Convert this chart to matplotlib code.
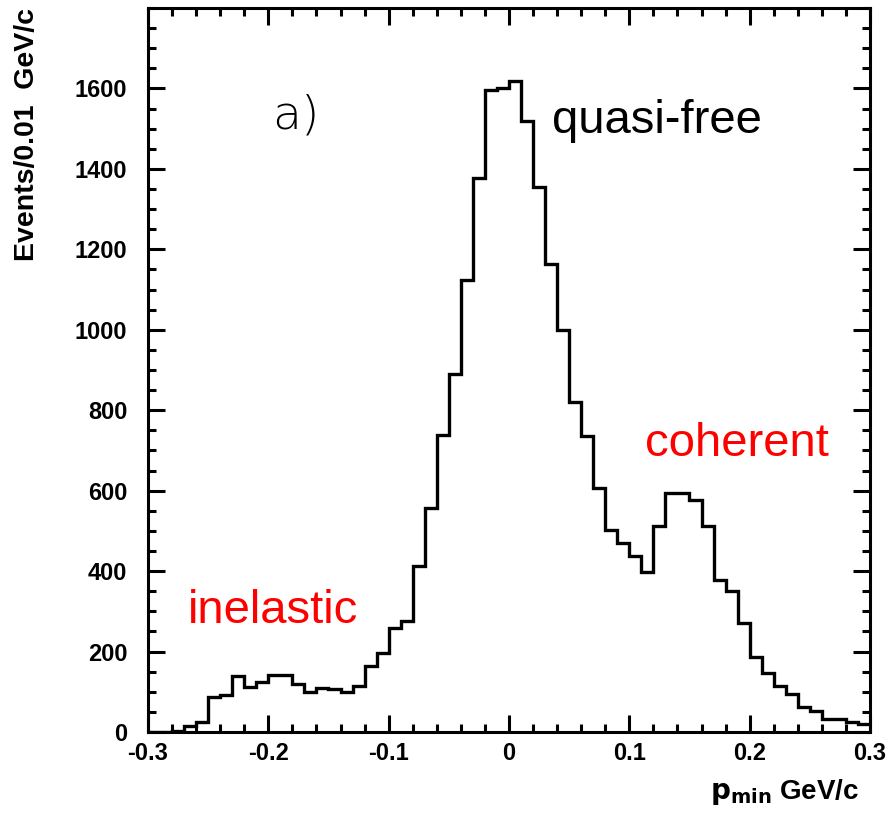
import numpy as np
import matplotlib
matplotlib.use("Agg")
from matplotlib import pyplot as plt
from matplotlib.ticker import MultipleLocator

# p_min distribution, 0.01 GeV/c bins from -0.3 to 0.3
edges = np.round(np.arange(-0.30, 0.3001, 0.01), 2)
counts = [0, 0, 2, 14, 26, 88, 92, 140, 113, 125,
          142, 142, 119, 100, 110, 106, 100, 115, 164, 197,
          258, 276, 413, 556, 738, 889, 1123, 1378, 1597, 1600,
          1618, 1518, 1355, 1163, 1000, 820, 735, 607, 502, 469,
          437, 398, 512, 595, 595, 576, 512, 378, 351, 270,
          187, 147, 115, 94, 61, 53, 32, 32, 26, 20]

xticks = [-0.3, -0.2, -0.1, 0, 0.1, 0.2, 0.3]
xticklabels = ["-0.3", "-0.2", "-0.1", "0", "0.1", "0.2", "0.3"]
yticks = [0, 200, 400, 600, 800, 1000, 1200, 1400, 1600]

plt.rcParams['font.family'] = ['Liberation Sans', 'DejaVu Sans']

fig = plt.figure(figsize=(8.9, 8.14), dpi=100)
ax = fig.add_axes([0.1663, 0.1007, 0.9775 - 0.1663, 0.9902 - 0.1007])

ax.stairs(counts, edges, color="black", linewidth=2.4, baseline=None)

ax.set_xlim(-0.3, 0.3)
ax.set_ylim(0, 1800)

ax.set_xticks(xticks)
ax.set_xticklabels(xticklabels, fontsize=17, fontweight="bold")
ax.set_yticks(yticks)
ax.set_yticklabels([str(v) for v in yticks], fontsize=17, fontweight="bold")
ax.xaxis.set_minor_locator(MultipleLocator(0.02))
ax.yaxis.set_minor_locator(MultipleLocator(50))

ax.tick_params(which="both", direction="in", top=True, right=True, width=2.2)
ax.tick_params(which="major", length=12)
ax.tick_params(which="minor", length=6)
ax.tick_params(axis="y", which="major", pad=15)
ax.tick_params(axis="x", which="major", pad=7)
for s in ax.spines.values():
    s.set_linewidth(2.2)

fig.text(0.03, 0.99, "Events/0.01  GeV/c", rotation=90, ha="center", va="top",
         fontsize=20.5, fontweight="bold")
fig.text(0.966, 0.018, r"$\mathbf{p_{min}}$ GeV/c", ha="right", va="baseline",
         fontsize=20, fontweight="bold")

ax.text(-0.197, 1500, "a)", fontsize=34, fontweight="light",
        family=["DejaVu Sans"], va="baseline")
ax.text(0.036, 1488, "quasi-free", fontsize=34, color="black", va="baseline")
ax.text(-0.267, 271, "inelastic", fontsize=34, color="red", va="baseline")
ax.text(0.1127, 686, "coherent", fontsize=34, color="red", va="baseline")

fig.savefig("out.png", dpi=100)
